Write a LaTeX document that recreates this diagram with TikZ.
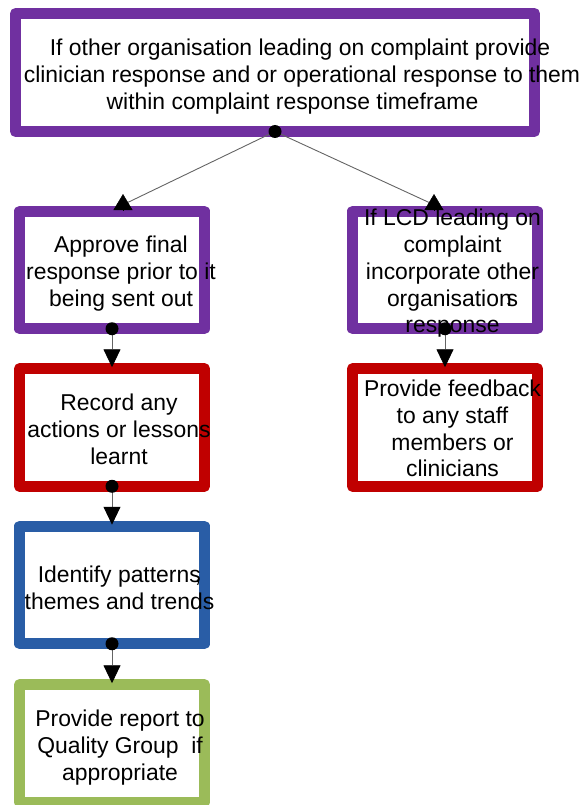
\documentclass[tikz,border=0pt]{standalone}
\usepackage{fontspec}
\setmainfont{Liberation Sans}
\usetikzlibrary{arrows.meta}
\definecolor{vpurple}{RGB}{112,48,160}
\definecolor{vred}{RGB}{192,0,0}
\definecolor{vblue}{RGB}{41,93,166}
\definecolor{vgreen}{RGB}{155,187,89}
\definecolor{conngray}{RGB}{100,100,100}
\begin{document}
\begin{tikzpicture}[x=1pt,y=-1pt,
  box/.style={draw=#1, line width=11pt, line join=round, fill=white, minimum width=185pt, minimum height=117.5pt, inner sep=0pt, outer sep=0pt},
  txt/.style={align=center, inner sep=0pt, text=black, font=\fontsize{22.9pt}{26.8pt}\selectfont, execute at begin node=\strut, execute at end node=\strut},
  dot/.style={circle, fill=black, minimum size=13pt, inner sep=0pt},
  conn/.style={draw=conngray, line width=0.9pt},
  downtip/.style={conn, -{Triangle[length=18pt,width=17pt,color=black,fill=black]}},
  uptip/.style={draw=black, line width=0.5pt, -{Triangle[length=16pt,width=19pt,color=black,fill=black]}},
]
\useasboundingbox (0,0) rectangle (584,805);

% boxes
\node[box=vpurple, minimum width=519pt, minimum height=118pt] (top) at (275,72.5) {};
\node[box=vpurple] (approve) at (112,270) {};
\node[box=vpurple] (lcd) at (445,270) {};
\node[box=vred] (record) at (112,427.5) {};
\node[box=vred] (feedback) at (445,427.5) {};
\node[box=vblue] (identify) at (112,585) {};
\node[box=vgreen] (report) at (112,743.5) {};

% texts
\node[txt] (toptext) at (300,78) {If other organisation leading on complaint provide\\\kern4pt clinician response and or operational response to them\\\kern-15pt within complaint response timeframe};
\node[txt] (approvetext) at (121,275.3) {Approve final\\response prior to it\\being sent out};
\node[txt] (lcdtext) at (452.5,275) {If LCD leading on\\complaint\\incorporate other\\organisatio\rlap{n}\kern7.5pt s\\response};
\node[txt] (recordtext) at (119,433) {Record any\\actions or lessons\\learnt};
\node[txt] (feedbacktext) at (452.5,432.4) {Provide feedback\\to any staff\\members or\\clinicians};
\node[txt] (identifytext) at (119.5,592) {Identify patterns\kern-6pt,\\themes and trends};
\node[txt] (reporttext) at (120,749) {Provide report to\\Quality Group\ \ if\\appropriate};

% connectors
\coordinate (e1) at (122.5,205);
\coordinate (e2) at (434.5,205);
\coordinate (b1) at (123,210);
\coordinate (t1) at (123,194);
\coordinate (b2) at (434,210);
\coordinate (t2) at (434,194);
\draw[conn] (top.south) -- (e1);
\draw[conn] (top.south) -- (e2);
\draw[uptip] (b1) -- (t1);
\draw[uptip] (b2) -- (t2);
\draw[downtip] (approve.south) -- ([yshift=1.5pt]record.north);
\draw[downtip] (lcd.south) -- ([yshift=1.5pt]feedback.north);
\draw[downtip] (record.south) -- ([yshift=1.5pt]identify.north);
\draw[downtip] (identify.south) -- ([yshift=1.5pt]report.north);

% dots
\node[dot] (d0) at (top.south) {};
\node[dot] (d1) at (approve.south) {};
\node[dot] (d2) at (lcd.south) {};
\node[dot] (d3) at (record.south) {};
\node[dot] (d4) at (identify.south) {};
\end{tikzpicture}
\end{document}
